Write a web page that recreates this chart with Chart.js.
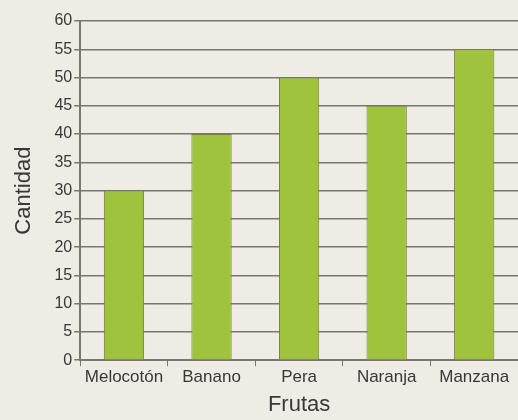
<!DOCTYPE html>
<html>
<head>
   <meta charset="utf-8">
   <script src="https://cdn.jsdelivr.net/npm/chart.js@4.4.0/dist/chart.umd.min.js"></script>
   <title>Frutas</title>
   <style>
      body { margin: 0; background: #efece5; }
      #wrap { width: 518px; height: 420px; }
   </style>
</head>
<body>
<div id="wrap"><canvas id="bar-chart"></canvas></div>
<script>
   const frutas = ["Melocotón", "Banano", "Pera", "Naranja", "Manzana"];
   const cantidad = [30, 40, 50, 45, 55];
   const yMin = 0, yMax = 60, yStep = 5;

   const ink = "#3b3733";
   const lineGray = "#7c7670";

   new Chart(document.getElementById("bar-chart"), {
      type: "bar",
      data: {
         labels: frutas,
         datasets: [{
            label: "Cantidad",
            data: cantidad,
            backgroundColor: "#a0c33e",
            borderColor: "#6f7e3a",
            borderWidth: 1,
            barPercentage: 0.46,
            categoryPercentage: 1
         }]
      },
      options: {
         responsive: true,
         maintainAspectRatio: false,
         animation: false,
         layout: { padding: { top: 21, right: 0, bottom: 2, left: 11 } },
         plugins: {
            legend: { display: false },
            tooltip: { enabled: false }
         },
         scales: {
            x: {
               offset: true,
               grid: {
                  offset: true,
                  drawOnChartArea: false,
                  drawTicks: true,
                  tickLength: 6,
                  color: lineGray
               },
               border: { color: lineGray, width: 2 },
               ticks: {
                  color: ink,
                  font: { family: "Liberation Sans, Arial, sans-serif", size: 17 },
                  padding: 1,
                  maxRotation: 0,
                  autoSkip: false
               },
               title: {
                  display: true,
                  text: "Frutas",
                  color: ink,
                  font: { family: "Liberation Sans, Arial, sans-serif", size: 22 },
                  padding: { top: 3, bottom: 0 }
               }
            },
            y: {
               min: yMin,
               max: yMax,
               grid: {
                  color: lineGray,
                  lineWidth: 1.5,
                  tickLength: 6
               },
               border: { color: lineGray, width: 2 },
               ticks: {
                  stepSize: yStep,
                  color: ink,
                  font: { family: "Liberation Sans, Arial, sans-serif", size: 16 },
                  padding: 2
               },
               title: {
                  display: true,
                  text: "Cantidad",
                  color: ink,
                  font: { family: "Liberation Sans, Arial, sans-serif", size: 22 },
                  padding: { top: 0, bottom: 15 }
               }
            }
         }
      }
   });
</script>
</body>
</html>
